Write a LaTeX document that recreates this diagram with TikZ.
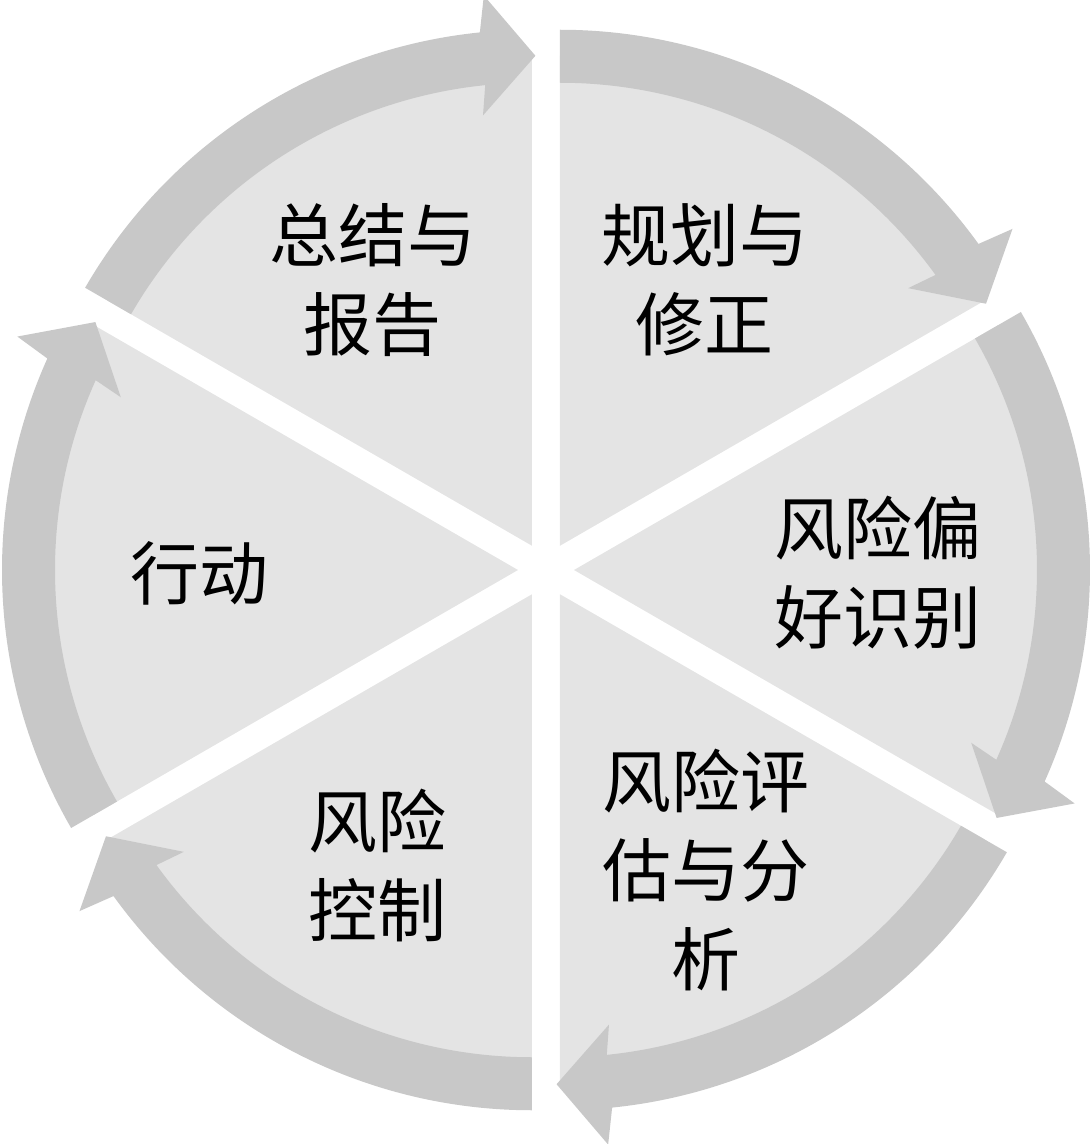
\documentclass[tikz,border=0pt]{standalone}
\usepackage{fontspec}
\newfontfamily\cjk{Noto Sans CJK SC}
\usetikzlibrary{calc}

\definecolor{bandgray}{RGB}{200,200,200}
\definecolor{wedgegray}{RGB}{228,228,228}

\begin{document}
\begin{tikzpicture}[x=1pt, y=1pt,
  wedge/.style={fill=wedgegray},
  band/.style={fill=bandgray},
  stagetext/.style={font=\cjk\fontsize{69}{89}\selectfont, align=center, text=black, inner sep=0pt}]
\useasboundingbox (-546,-574) rectangle (546,570);

% six segments, clockwise from the top
\foreach \s/\e in {90/30, 30/-30, -30/-90, -90/-150, -150/-210, 150/90}{
  \pgfmathsetmacro{\md}{(\s+\e)/2}
  \pgfmathsetmacro{\tp}{\e-0.4}
  \pgfmathsetmacro{\bk}{\e+5.8}
  \begin{scope}[shift={(\md:28)}]
    \fill[wedge] (0,0) -- (\s:490) arc[start angle=\s, end angle=\e, radius=490] -- cycle;
    \fill[band] (\s:516) arc[start angle=\s, end angle=\bk, radius=516]
      -- ($(\tp:490)+(\tp+90:52)+(\tp:60)$) -- (\tp:490)
      -- ($(\tp:490)+(\tp+90:52)-(\tp:60)$)
      -- (\bk:463) arc[start angle=\bk, end angle=\s, radius=463] -- cycle;
  \end{scope}
}

\node[stagetext] (summary) at (-173,290) {总结与\\报告};
\node[stagetext] (plan) at (159,290) {规划与\\修正};
\node[stagetext] (appetite) at (332,-3) {风险偏\\好识别};
\node[stagetext] (assess) at (160,-300) {风险评\\估与分\\析};
\node[stagetext] (control) at (-168,-295) {风险\\控制};
\node[stagetext] (act) at (-346,-3) {行动};
\end{tikzpicture}
\end{document}
